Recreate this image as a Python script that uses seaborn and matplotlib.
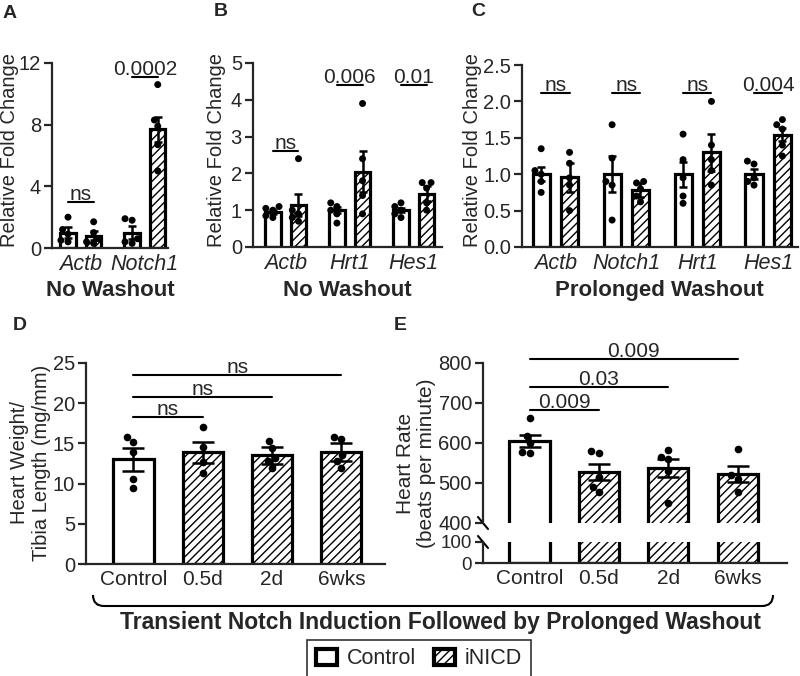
import pandas as pd
import matplotlib
matplotlib.use("Agg")
import matplotlib.pyplot as plt
import seaborn as sns
from matplotlib.patches import Patch, PathPatch
from matplotlib.path import Path

# ---- panel A: no washout ----
genes_a = ["Actb", "Notch1"]
ctrl_mean_a = [1.0, 1.0]
ctrl_sem_a = [0.35, 0.4]
nicd_mean_a = [0.8, 7.7]
nicd_sem_a = [0.3, 0.8]
ctrl_pts_a = [[2.0, 1.2, 0.9, 0.5, 0.4], [1.9, 1.8, 0.6, 0.4, 0.3]]
nicd_pts_a = [[1.7, 1.0, 0.6, 0.4, 0.3], [10.6, 8.3, 7.9, 6.7, 5.0]]
sig_a = ["ns", "0.0002"]
sig_y_a = [3.0, 11.1]

# ---- panel B: no washout ----
genes_b = ["Actb", "Hrt1", "Hes1"]
ctrl_mean_b = [0.95, 1.0, 1.0]
ctrl_sem_b = [0.05, 0.08, 0.06]
nicd_mean_b = [1.15, 2.05, 1.45]
nicd_sem_b = [0.3, 0.55, 0.2]
ctrl_pts_b = [[1.1, 1.05, 1.0, 0.85, 0.8], [1.2, 1.1, 1.0, 0.9, 0.65], [1.2, 1.1, 1.0, 0.9, 0.8]]
nicd_pts_b = [[2.4, 1.0, 0.9, 0.8, 0.7], [3.9, 2.4, 1.8, 1.4, 0.9], [1.75, 1.75, 1.6, 1.2, 1.0]]
sig_b = ["ns", "0.006", "0.01"]
sig_y_b = [2.6, 4.4, 4.4]

# ---- panel C: prolonged washout ----
genes_c = ["Actb", "Notch1", "Hrt1", "Hes1"]
ctrl_mean_c = [1.0, 1.0, 1.0, 1.0]
ctrl_sem_c = [0.1, 0.25, 0.17, 0.07]
nicd_mean_c = [0.96, 0.78, 1.3, 1.54]
nicd_sem_c = [0.2, 0.1, 0.25, 0.09]
ctrl_pts_c = [[1.35, 1.05, 1.0, 0.9, 0.75], [1.68, 1.22, 0.9, 0.85, 0.37],
              [1.55, 1.2, 0.95, 0.7, 0.6], [1.18, 1.14, 0.95, 0.9, 0.85]]
nicd_pts_c = [[1.3, 1.15, 0.95, 0.85, 0.5], [0.9, 0.88, 0.8, 0.7, 0.62],
              [2.0, 1.4, 1.2, 1.05, 0.85], [1.75, 1.68, 1.62, 1.4, 1.25]]
sig_c = ["ns", "ns", "ns", "0.004"]
sig_y_c = [2.12, 2.12, 2.12, 2.12]

# ---- panels D/E: transient induction then washout ----
groups_de = ["Control", "0.5d", "2d", "6wks"]
hw_mean = [13.0, 13.9, 13.5, 13.9]
hw_sem = [1.4, 1.3, 1.0, 1.1]
hw_pts = [[15.8, 15.2, 13.9, 10.6, 9.5], [17.0, 14.6, 12.7, 11.3],
          [15.3, 14.4, 13.2, 12.8, 12.0], [15.8, 15.6, 13.5, 12.8, 12.0]]
hw_sig = ["ns", "ns", "ns"]
hw_sig_y = [18.3, 20.8, 23.5]

hr_mean = [605, 527, 537, 523]
hr_sem = [14, 20, 22, 20]
hr_pts = [[662, 618, 600, 578, 575], [580, 575, 515, 490, 478],
          [583, 565, 560, 530, 450], [585, 520, 510, 478]]
hr_sig = ["0.009", "0.03", "0.009"]
hr_sig_y = [683, 741, 810]

HUES = ["Control", "iNICD"]
W, H = 800, 676

sns.set_style("ticks")
plt.rcParams["font.family"] = ["Liberation Sans", "DejaVu Sans"]
plt.rcParams["hatch.linewidth"] = 1.0


def fx(px):
    return px / W


def fy(py):
    return 1 - py / H


def add_ax(fig, x0, y0, x1, y1):
    # pixel box -> axes
    return fig.add_axes([fx(x0), fy(y1), (x1 - x0) / W, (y1 - y0) / H])


def style(ax):
    sns.despine(ax=ax)
    for s in ["left", "bottom"]:
        ax.spines[s].set_linewidth(1.6)
    ax.tick_params(axis="y", length=6, width=1.6, labelsize=14.5, pad=2)
    ax.tick_params(axis="x", length=0, labelsize=15, pad=4)
    ax.set_xlabel("")
    ax.set_ylabel("")


def sig_line(ax, x0, x1, y, txt):
    ax.plot([x0, x1], [y, y], color="black", lw=1.5, clip_on=False)
    ax.annotate(txt, ((x0 + x1) / 2, y), xytext=(0, 1.5), textcoords="offset points",
                ha="center", va="baseline", fontsize=15, annotation_clip=False)


def expr_panel(ax, genes, cm, cs, nm, nsem, cp, npts, sig, sig_y, ylim, yticks, xlim):
    n = len(genes)
    bars = pd.DataFrame({"gene": genes * 2, "group": ["Control"] * n + ["iNICD"] * n,
                         "value": cm + nm})
    sns.barplot(data=bars, x="gene", y="value", hue="group", order=genes, hue_order=HUES,
                palette=["white", "white"], edgecolor="black", linewidth=2.3, gap=0.4,
                errorbar=None, legend=False, ax=ax)
    conts = list(ax.containers[:2])
    for p in conts[1]:
        p.set_hatch("////")
    centers = []
    for cont, mean, sem in zip(conts, [cm, nm], [cs, nsem]):
        xs = [p.get_x() + p.get_width() / 2 for p in cont]
        centers.append(xs)
        ax.errorbar(xs, mean, yerr=sem, fmt="none", ecolor="black", elinewidth=1.8,
                    capsize=3, capthick=1.8, zorder=3)
    rows = []
    for g, c, v in zip(genes, cp, npts):
        rows += [(g, "Control", val) for val in c]
        rows += [(g, "iNICD", val) for val in v]
    pts = pd.DataFrame(rows, columns=["gene", "group", "value"])
    sns.swarmplot(data=pts, x="gene", y="value", hue="group", order=genes, hue_order=HUES,
                  dodge=True, palette=["black", "black"], size=5, legend=False, ax=ax, zorder=4)
    for i, (txt, y) in enumerate(zip(sig, sig_y)):
        sig_line(ax, centers[0][i], centers[1][i], y, txt)
    ax.set_ylim(*ylim)
    ax.set_yticks(yticks)
    ax.set_xlim(*xlim)
    style(ax)
    for lab in ax.get_xticklabels():
        lab.set_fontstyle("italic")
        lab.set_fontsize(15.5)


def time_bars(ax, means):
    sns.barplot(x=groups_de, y=means, order=groups_de, color="white", edgecolor="black",
                linewidth=2.3, width=0.58, errorbar=None, ax=ax)
    for p in ax.patches[1:]:
        p.set_hatch("////")
    return [p.get_x() + p.get_width() / 2 for p in ax.patches]


def time_marks(ax, xs, means, sems, pts, sig, sig_y):
    ax.errorbar(xs, means, yerr=sems, fmt="none", ecolor="black", elinewidth=1.8,
                capsize=8, capthick=1.8, zorder=3)
    xcat = [g for g, v in zip(groups_de, pts) for _ in v]
    yval = [val for v in pts for val in v]
    sns.swarmplot(x=xcat, y=yval, order=groups_de, color="black", size=5.5, ax=ax, zorder=4)
    for i, (txt, y) in enumerate(zip(sig, sig_y)):
        sig_line(ax, xs[0], xs[i + 1], y, txt)


fig = plt.figure(figsize=(W / 100, H / 100), dpi=100)

# A
ax_a = add_ax(fig, 52, 63, 168, 248)
expr_panel(ax_a, genes_a, ctrl_mean_a, ctrl_sem_a, nicd_mean_a, nicd_sem_a,
           ctrl_pts_a, nicd_pts_a, sig_a, sig_y_a, (0, 12), [0, 4, 8, 12], (-0.45, 1.36))
# B
ax_b = add_ax(fig, 253, 63, 442, 247)
expr_panel(ax_b, genes_b, ctrl_mean_b, ctrl_sem_b, nicd_mean_b, nicd_sem_b,
           ctrl_pts_b, nicd_pts_b, sig_b, sig_y_b, (0, 5), [0, 1, 2, 3, 4, 5], (-0.51, 2.44))
# C
ax_c = add_ax(fig, 522, 65, 798, 247)
expr_panel(ax_c, genes_c, ctrl_mean_c, ctrl_sem_c, nicd_mean_c, nicd_sem_c,
           ctrl_pts_c, nicd_pts_c, sig_c, sig_y_c, (0, 2.5), [0, 0.5, 1.0, 1.5, 2.0, 2.5],
           (-0.47, 3.42))
ax_c.yaxis.set_major_formatter(matplotlib.ticker.FormatStrFormatter("%.1f"))

# D
ax_d = add_ax(fig, 86, 363, 385, 564)
xs_d = time_bars(ax_d, hw_mean)
time_marks(ax_d, xs_d, hw_mean, hw_sem, hw_pts, hw_sig, hw_sig_y)
ax_d.set_ylim(0, 25)
ax_d.set_yticks([0, 5, 10, 15, 20, 25])
ax_d.set_xlim(-0.685, 3.63)
style(ax_d)

# E (broken axis)
ax_e = add_ax(fig, 483, 363, 787, 523)
ax_e0 = add_ax(fig, 483, 542, 787, 563)
xs_e = time_bars(ax_e, hr_mean)
time_bars(ax_e0, hr_mean)
time_marks(ax_e, xs_e, hr_mean, hr_sem, hr_pts, hr_sig, hr_sig_y)
ax_e.set_ylim(400, 800)
ax_e.set_yticks([400, 500, 600, 700, 800])
ax_e0.set_ylim(0, 100)
ax_e0.set_yticks([0, 100])
for a in (ax_e, ax_e0):
    a.set_xlim(-0.67, 3.71)
    style(a)
ax_e.spines["bottom"].set_visible(False)
ax_e.tick_params(axis="x", labelbottom=False)
ax_e0.tick_params(axis="y", labelsize=13.5)
# break marks
for a, yb in ((ax_e, 0), (ax_e0, 1)):
    h_px = a.get_position().height * H
    w_px = a.get_position().width * W
    a.plot([-5 / w_px, 5 / w_px], [yb + 6 / h_px, yb - 6 / h_px], transform=a.transAxes,
           color="black", lw=1.5, clip_on=False)

# axis titles
for px in (10, 216, 472):
    fig.text(fx(px), fy(150), "Relative Fold Change", rotation=90, ha="center", va="center",
             fontsize=14.5)
fig.text(fx(31), fy(463), "Heart Weight/\nTibia Length (mg/mm)", rotation=90, ha="center",
         va="center", multialignment="center", fontsize=14.5, linespacing=1.2)
fig.text(fx(416), fy(463), "Heart Rate\n(beats per minute)", rotation=90, ha="center",
         va="center", multialignment="center", fontsize=15, linespacing=1.15)

fig.text(fx(110), fy(290), "No Washout", ha="center", va="center", fontsize=16, fontweight="bold")
fig.text(fx(347), fy(290), "No Washout", ha="center", va="center", fontsize=16, fontweight="bold")
fig.text(fx(659), fy(290), "Prolonged Washout", ha="center", va="center", fontsize=16, fontweight="bold")

# panel letters
for letter, (px, py) in zip("ABCDE", [(10, 13), (221, 12), (478, 11), (20, 326), (400, 326)]):
    fig.text(fx(px), fy(py), letter, ha="center", va="center", fontsize=14, fontweight="bold")

# brace under D and E
verts = [(93, 595), (93, 606), (104, 606), (762, 606), (773, 606), (773, 595)]
verts = [(fx(x), fy(y)) for x, y in verts]
codes = [Path.MOVETO, Path.CURVE3, Path.CURVE3, Path.LINETO, Path.CURVE3, Path.CURVE3]
fig.add_artist(PathPatch(Path(verts, codes), transform=fig.transFigure, fill=False,
                         edgecolor="black", lw=1.5))
fig.text(fx(441), fy(623), "Transient Notch Induction Followed by Prolonged Washout",
         ha="center", va="center", fontsize=16.5, fontweight="bold")

handles = [Patch(facecolor="white", edgecolor="black", linewidth=3, label="Control"),
           Patch(facecolor="white", edgecolor="black", linewidth=3, hatch="////", label="iNICD")]
leg = fig.legend(handles=handles, loc="center", bbox_to_anchor=(fx(419), fy(659)), ncol=2,
                 fontsize=15.5, frameon=True, fancybox=False, handlelength=1.0, handleheight=0.7,
                 handletextpad=0.45, columnspacing=0.8, borderpad=0.4)
leg.get_frame().set_edgecolor("black")
leg.get_frame().set_linewidth(1.2)

fig.savefig("out.png", dpi=100)
